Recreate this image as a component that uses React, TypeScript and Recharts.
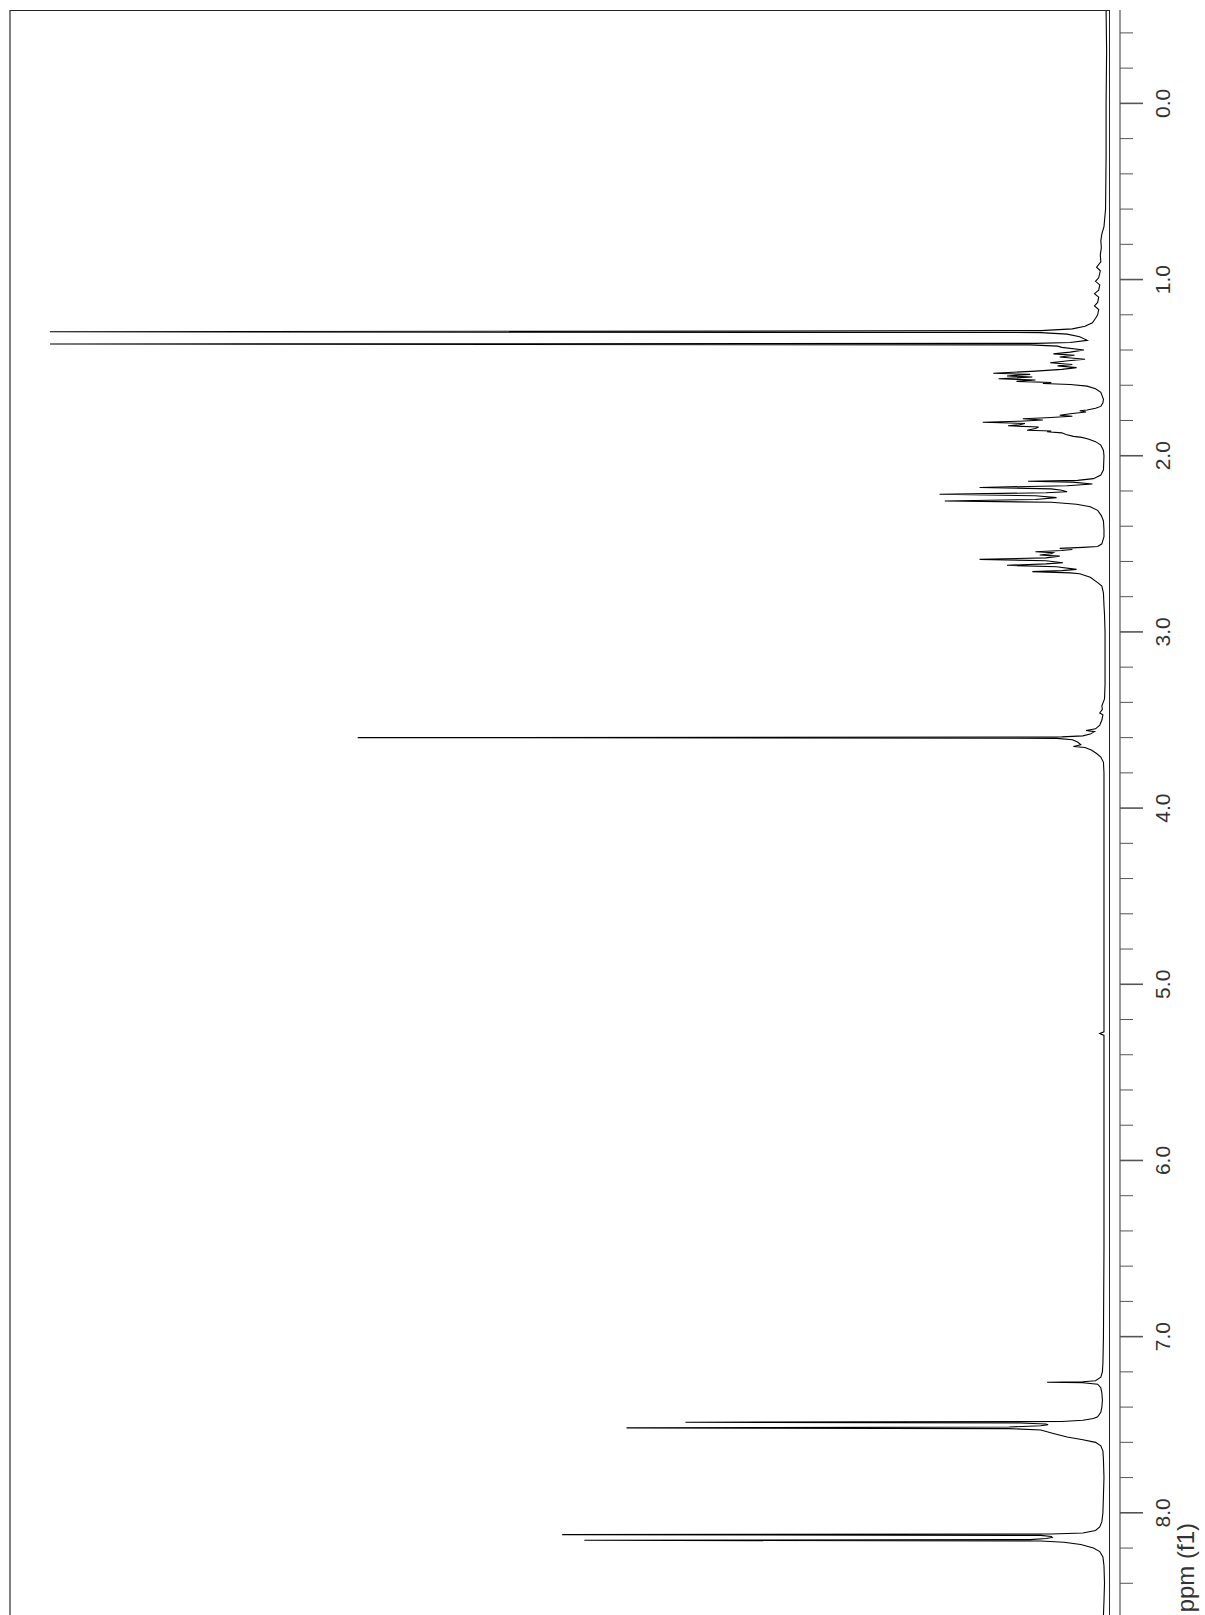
import React from 'react';
import { ScatterChart, Scatter, XAxis, YAxis } from 'recharts';

type Pt = [number, number];

// [chemical shift (ppm), intensity (% of tallest)]
const upfieldBaseline: Pt[] = [
  [-0.53, -0.2], [-0.3, -0.25], [0.0, -0.2], [0.3, -0.2], [0.6, -0.15], [0.7, 0.0], [0.74, 0.2],
  [0.78, 0.3], [0.82, 0.25], [0.86, 0.35], [0.9, 0.3], [0.93, 0.7], [0.95, 0.35], [0.99, 0.5],
  [1.01, 0.8], [1.03, 0.4], [1.06, 0.5], [1.08, 0.9], [1.1, 0.5], [1.13, 0.6], [1.15, 0.9],
  [1.17, 0.5], [1.2, 0.6], [1.22, 0.8], [1.245, 1.1], [1.265, 1.8], [1.28, 3.0], [1.29, 6.0],
];
const methylPair: Pt[] = [
  [1.296, 100], [1.301, 6.0], [1.31, 3.5], [1.325, 2.3], [1.345, 1.6], [1.357, 3.2], [1.362, 6.5],
  [1.366, 100], [1.371, 7.0], [1.378, 4.4],
];
const multiplet15: Pt[] = [
  [1.385, 4.0], [1.4, 1.9], [1.412, 3.2], [1.422, 4.8], [1.43, 2.8], [1.44, 4.2], [1.452, 1.8],
  [1.462, 3.6], [1.472, 5.1], [1.482, 3.0], [1.49, 4.4], [1.5, 2.6], [1.51, 4.0], [1.52, 6.5],
  [1.532, 10.5], [1.538, 7.0], [1.547, 9.2], [1.553, 6.8], [1.563, 10.0], [1.57, 6.5], [1.578, 8.3],
  [1.584, 5.0], [1.59, 5.8], [1.596, 3.2], [1.605, 1.6], [1.62, 0.8], [1.64, 0.3], [1.68, 0.05], [1.7, 0.1],
];
const multiplet18: Pt[] = [
  [1.72, 0.3], [1.73, 0.8], [1.74, 1.6], [1.745, 2.3], [1.752, 1.7], [1.762, 3.2], [1.77, 4.2],
  [1.776, 3.0], [1.784, 5.5], [1.79, 7.7], [1.797, 5.8], [1.804, 8.0], [1.81, 11.5], [1.817, 7.5],
  [1.824, 8.0], [1.83, 9.1], [1.837, 6.2], [1.845, 6.5], [1.855, 7.3], [1.86, 5.0], [1.864, 5.4],
  [1.87, 4.0], [1.88, 3.6], [1.89, 2.9], [1.896, 2.1], [1.905, 1.5], [1.92, 0.8], [1.94, 0.3], [1.97, 0.05],
];
const multiplet22: Pt[] = [
  [2.0, 0.0], [2.08, 0.05], [2.11, 0.3], [2.13, 1.0], [2.14, 2.5], [2.145, 7.2], [2.15, 3.0],
  [2.16, 1.1], [2.17, 3.5], [2.18, 11.8], [2.188, 5.0], [2.196, 4.0], [2.204, 3.5], [2.21, 5.5],
  [2.219, 15.6], [2.227, 6.5], [2.238, 4.5], [2.248, 6.5], [2.257, 15.1], [2.264, 5.0], [2.275, 2.6],
  [2.29, 1.3], [2.31, 0.6], [2.34, 0.25], [2.37, 0.05], [2.42, 0.0],
];
const multiplet26: Pt[] = [
  [2.46, 0.0], [2.5, 0.2], [2.515, 0.6], [2.52, 2.0], [2.526, 4.2], [2.532, 3.0], [2.538, 4.0],
  [2.545, 6.5], [2.55, 4.8], [2.556, 5.0], [2.563, 6.1], [2.57, 4.2], [2.58, 5.5], [2.588, 11.8],
  [2.596, 5.5], [2.607, 3.9], [2.614, 5.5], [2.622, 9.2], [2.63, 4.5], [2.645, 2.6], [2.652, 4.0],
  [2.658, 6.8], [2.665, 3.2], [2.67, 2.3], [2.69, 1.3], [2.72, 0.6], [2.74, 0.2], [2.78, 0.05], [2.85, 0.0],
];
const midBaseline: Pt[] = [
  [2.9, -0.05], [3.0, -0.1], [3.1, -0.1], [3.2, -0.1], [3.3, -0.1], [3.38, -0.05], [3.42, 0.2],
  [3.44, 0.15], [3.46, 0.4], [3.47, 0.1], [3.5, 0.2],
];
const methoxySinglet: Pt[] = [
  [3.53, 0.4], [3.55, 0.8], [3.56, 1.7], [3.566, 0.9], [3.58, 1.3], [3.59, 2.0], [3.596, 4.0],
  [3.6, 70.8], [3.604, 4.5], [3.612, 3.0], [3.625, 2.5], [3.64, 2.2], [3.65, 2.9], [3.656, 1.8],
  [3.67, 1.2], [3.69, 0.7], [3.71, 0.3], [3.74, 0.05], [3.8, 0.0],
];
const downfieldBaseline: Pt[] = [
  [4.0, 0.0], [4.5, 0.0], [5.0, 0.0], [5.27, 0.0], [5.28, 0.4], [5.29, 0.0], [5.6, 0.0],
  [6.0, 0.0], [6.5, 0.0], [7.0, 0.05], [7.15, 0.1], [7.2, 0.15],
];
const chloroformPeak: Pt[] = [
  [7.23, 0.3], [7.25, 0.8], [7.256, 2.0], [7.259, 5.4], [7.262, 2.0], [7.27, 0.6], [7.29, 0.3],
  [7.32, 0.2], [7.36, 0.15], [7.4, 0.2], [7.43, 0.3],
];
const aromatic75: Pt[] = [
  [7.455, 0.6], [7.465, 1.0], [7.475, 2.0], [7.482, 4.0], [7.486, 39.7], [7.49, 8.0], [7.496, 5.5],
  [7.5, 5.3], [7.506, 6.0], [7.513, 9.0], [7.518, 45.3], [7.522, 9.0], [7.53, 6.0], [7.55, 4.8],
  [7.57, 3.5], [7.585, 2.0], [7.6, 0.8], [7.62, 0.3], [7.65, 0.1], [7.7, 0.05],
];
const aromatic81: Pt[] = [
  [7.8, 0.0], [7.9, 0.05], [8.0, 0.1], [8.05, 0.2], [8.08, 0.4], [8.1, 0.8], [8.115, 2.0],
  [8.12, 5.0], [8.124, 51.4], [8.128, 6.0], [8.134, 5.0], [8.14, 4.9], [8.146, 5.5], [8.152, 7.0],
  [8.156, 49.3], [8.16, 6.0], [8.167, 3.8], [8.18, 2.2], [8.2, 1.0], [8.22, 0.4], [8.25, 0.1],
  [8.3, 0.0], [8.4, -0.05], [8.5, 0.0], [8.58, 0.05],
];

const ppmTicks: number[] = [
  -0.4, -0.2, 0.0, 0.2, 0.4, 0.6, 0.8, 1.0, 1.2, 1.4, 1.6, 1.8, 2.0, 2.2, 2.4, 2.6, 2.8, 3.0,
  3.2, 3.4, 3.6, 3.8, 4.0, 4.2, 4.4, 4.6, 4.8, 5.0, 5.2, 5.4, 5.6, 5.8, 6.0, 6.2, 6.4, 6.6,
  6.8, 7.0, 7.2, 7.4, 7.6, 7.8, 8.0, 8.2, 8.4,
];
const ppmDomain: [number, number] = [-0.53, 8.58];
const intensityDomain: [number, number] = [-1.52, 103.79];
const axisTitle = 'ppm (f1)';

const spectrum = [
  ...upfieldBaseline, ...methylPair, ...multiplet15, ...multiplet18, ...multiplet22,
  ...multiplet26, ...midBaseline, ...methoxySinglet, ...downfieldBaseline, ...chloroformPeak,
  ...aromatic75, ...aromatic81,
].map(([ppm, intensity]) => ({ ppm, intensity }));

const FONT = "'Liberation Sans', Arial, Helvetica, sans-serif";

const PpmTick = (props: any) => {
  const { x, y, payload } = props;
  const v = Number(payload.value);
  const major = Math.abs(v - Math.round(v)) < 1e-6;
  const tx = x + 50;
  return (
    <g>
      <line x1={x} y1={y} x2={x + (major ? 23 : 13)} y2={y} stroke="#555" strokeWidth={major ? 1.6 : 1} />
      {major && (
        <text x={tx} y={y} transform={`rotate(-90, ${tx}, ${y})`} textAnchor="middle"
          fontSize={21} fontFamily={FONT} fill="#333">
          {v.toFixed(1)}
        </text>
      )}
    </g>
  );
};

const AxisTitle = (props: any) => {
  const vb = props.viewBox || {};
  const tx = (vb.x ?? 1120) + 74;
  const ty = 1523;
  return (
    <text x={tx} y={ty} transform={`rotate(-90, ${tx}, ${ty})`} textAnchor="end"
      fontSize={24} fontFamily={FONT} fill="#333">
      {axisTitle}
    </text>
  );
};

const EmptyShape = () => <g />;

export default function App() {
  return (
    <div style={{ position: 'relative', width: 1205, height: 1615, overflow: 'hidden', background: '#fff' }}>
      <style>{`body{margin:0;}`}</style>
      <ScatterChart width={1205} height={1615} margin={{ top: 10, right: 0, bottom: 0, left: 10 }}>
        <XAxis type="number" dataKey="intensity" domain={intensityDomain} reversed hide allowDataOverflow />
        <YAxis
          type="number"
          dataKey="ppm"
          orientation="right"
          width={85}
          domain={ppmDomain}
          reversed
          allowDataOverflow
          ticks={ppmTicks}
          interval={0}
          tickSize={0}
          tickMargin={0}
          tick={<PpmTick />}
          tickLine={false}
          axisLine={{ stroke: '#555', strokeWidth: 1.2 }}
          label={<AxisTitle />}
        />
        <Scatter
          data={spectrum}
          line={{ stroke: '#000', strokeWidth: 1.1 }}
          lineType="joint"
          shape={<EmptyShape />}
          isAnimationActive={false}
          legendType="none"
        />
      </ScatterChart>
      <div
        style={{
          position: 'absolute', left: 9, top: 10, width: 1101, height: 1605, boxSizing: 'border-box',
          borderLeft: '2px solid #808080', borderTop: '1px solid #222', borderRight: '1px solid #222',
          pointerEvents: 'none',
        }}
      />
    </div>
  );
}
